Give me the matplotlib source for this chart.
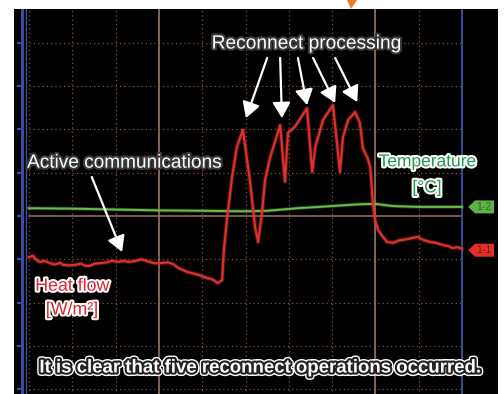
import numpy as np
import matplotlib
matplotlib.use("Agg")
import matplotlib.pyplot as plt
import matplotlib.patheffects as pe
from matplotlib.patches import Polygon

plt.rcParams['font.family'] = ['Liberation Sans', 'DejaVu Sans']
plt.rcParams['lines.scale_dashes'] = False

# scope traces, in screen divisions (x: 0..10, y: centre line = 0)
heat_t = [0, 0.09, 0.18, 0.25, 0.36, 0.49, 0.60, 0.72, 0.79, 0.92, 1.06, 1.20,
          1.30, 1.41, 1.52, 1.64, 1.80, 1.92, 2.03, 2.20, 2.30, 2.45, 2.60,
          2.79, 2.90, 3.03, 3.20, 3.33, 3.45, 3.65, 3.85, 4.11, 4.25, 4.36,
          4.46, 4.50, 4.57, 4.69, 4.80, 4.94, 5.10, 5.22, 5.29, 5.38, 5.45,
          5.57, 5.80, 5.91, 5.98, 6.14, 6.42, 6.54, 6.61, 6.79, 7.02, 7.18,
          7.25, 7.37, 7.53, 7.64, 7.71, 7.76, 7.81, 7.88, 7.94, 7.99, 8.06,
          8.15, 8.27, 8.41, 8.55, 8.64, 8.80, 8.98, 9.10, 9.26, 9.40, 9.56,
          9.70, 9.77, 9.90, 10.0]
heat_v = [-0.95, -0.92, -1.02, -1.06, -1.04, -1.09, -1.12, -1.08, -1.13, -1.14,
          -1.13, -1.10, -1.15, -1.15, -1.10, -1.09, -1.07, -1.03, -1.06, -1.04,
          -1.06, -1.04, -1.00, -1.06, -1.09, -1.09, -1.07, -1.11, -1.20, -1.29,
          -1.34, -1.43, -1.47, -1.55, -1.48, -0.79, -0.09, 0.90, 1.59, 1.99,
          0.83, -0.25, -0.60, 0.07, 0.83, 1.36, 2.10, 0.79, 1.92, 2.06, 2.49,
          1.02, 1.59, 2.22, 2.56, 1.02, 1.82, 2.22, 2.40, 2.15, 1.57, 1.45,
          1.36, 1.13, 0.30, -0.09, -0.32, -0.45, -0.60, -0.62, -0.56, -0.55,
          -0.52, -0.48, -0.55, -0.60, -0.62, -0.67, -0.70, -0.74, -0.72, -0.76]

temp_t = [0, 1.0, 2.0, 3.0, 4.0, 5.0, 5.5, 6.2, 7.0, 7.6, 8.0, 8.4, 9.0, 10.0]
temp_v = [0.18, 0.17, 0.15, 0.13, 0.12, 0.11, 0.12, 0.18, 0.23, 0.27, 0.28,
          0.23, 0.21, 0.21]

# channel markers on the right edge
flag_labels = ['1-2', '1-1']
flag_levels = [0.21, -0.79]

# peaks marked as reconnects (arrow tips) and the arrow tails
peak_t = [5.01, 5.84, 6.42, 7.07, 7.58]
peak_v = [2.26, 2.26, 2.56, 2.61, 2.63]
tail_t = [5.50, 5.80, 6.21, 6.56, 7.07]
tail_v = [3.65, 3.65, 3.65, 3.65, 3.65]

assert len(heat_t) == len(heat_v)

fig = plt.figure(figsize=(5.04, 3.94), dpi=100)
ax = fig.add_axes([14 / 504, 0, 484 / 504, 385 / 394])
ax.set_facecolor('black')
ax.set_xlim(-0.346, 10.83)
ax.set_ylim(-4.11, 4.78)
ax.set_xticks([])
ax.set_yticks([])
for sp in ax.spines.values():
    sp.set_visible(False)

grid_c = '#8a5535'
dots = (0, (0.9, 2.2))
for gy in range(-4, 5):
    if gy != 0:
        ax.plot([0, 10], [gy, gy], color=grid_c, lw=0.9, ls=dots, zorder=1)
for gx in range(0, 10):
    if gx != 3:
        ax.plot([gx, gx], [-4.2, 4.9], color=grid_c, lw=0.9, ls=dots, zorder=1)

cursor_c = '#9c7262'
ax.plot([0, 10], [0, 0], color=cursor_c, lw=1.1, zorder=2)
for cx in (3, 8):
    ax.plot([cx, cx], [-4.2, 4.9], color=cursor_c, lw=1.2, zorder=2)

blue = '#3b4c9e'
ax.plot([10, 10], [-4.2, 4.9], color=blue, lw=1.4, zorder=2)
ax.plot([-0.16, -0.16], [-4.2, 4.9], color=blue, lw=2.2, zorder=2)
ax.plot([-0.07, -0.07], [-4.2, 4.9], color=blue, lw=1.0, zorder=2)
for gy in range(-4, 5):
    ax.plot([-0.25, -0.16], [gy, gy], color=blue, lw=1.6, zorder=2)

# traces
ax.plot(temp_t, temp_v, color='#62b048', lw=2.6, alpha=0.35, zorder=3)
ax.plot(temp_t, temp_v, color='#6cbc4c', lw=1.4, zorder=3)
ax.plot(heat_t, heat_v, color='#dc322c', lw=3.2, alpha=0.3, zorder=4)
ax.plot(heat_t, heat_v, color='#dc322c', lw=1.6, zorder=4)

flag_fill = ['#62b048', '#e0302c']
flag_text = ['#2c6a20', '#8a1010']
for lab, lev, fc, tc in zip(flag_labels, flag_levels, flag_fill, flag_text):
    h = 0.15
    ax.add_patch(Polygon([(10.14, lev), (10.30, lev + h), (10.74, lev + h),
                          (10.74, lev - h), (10.30, lev - h)],
                         closed=True, fc=fc, ec='none', zorder=5))
    ax.text(10.51, lev, lab, color=tc, fontsize=7.5, ha='center',
            va='center', zorder=6)

# annotations
dark_edge = [pe.withStroke(linewidth=3, foreground='#3a3a3a')]
arrow_kw = dict(arrowstyle='-|>,head_length=0.47,head_width=0.27',
                color='white', lw=1.6, mutation_scale=20,
                shrinkA=0, shrinkB=0)

ax.text(6.40, 3.97, 'Reconnect processing', color='white', fontsize=13.8,
        ha='center', va='center', path_effects=dark_edge, zorder=7)
for tt, tv, pt, pv in zip(tail_t, tail_v, peak_t, peak_v):
    ax.annotate('', xy=(pt, pv), xytext=(tt, tv), arrowprops=arrow_kw,
                zorder=7)

ax.text(2.19, 1.22, 'Active communications', color='white', fontsize=13.7,
        ha='center', va='center', path_effects=dark_edge, zorder=7)
ax.annotate('', xy=(2.15, -0.83), xytext=(1.45, 0.90), arrowprops=arrow_kw,
            zorder=7)

white_edge = [pe.withStroke(linewidth=3, foreground='white')]
ax.text(9.20, 1.25, 'Temperature', color='#1f9a4c', fontsize=12.5,
        ha='center', va='center', path_effects=white_edge, zorder=7)
ax.text(9.19, 0.65, '[°C]', color='#1f9a4c', fontsize=12.5,
        ha='center', va='center', path_effects=white_edge, zorder=7)
ax.text(1.0, -1.62, 'Heat flow', color='#dd2230', fontsize=12.8,
        ha='center', va='center', path_effects=white_edge, zorder=7)
ax.text(0.99, -2.17, '[W/m²]', color='#dd2230', fontsize=12.8,
        ha='center', va='center', path_effects=white_edge, zorder=7)

ax.text(5.33, -3.51, 'It is clear that five reconnect operations occurred.',
        color='white', fontsize=13.4, fontweight='bold', ha='center',
        va='center', zorder=7,
        path_effects=[pe.Stroke(linewidth=5, foreground='white'),
                      pe.Stroke(linewidth=3, foreground='#222222'),
                      pe.Normal()])

# trigger marker in the top margin
fig.patches.append(Polygon([(347 / 504, 1), (357 / 504, 1), (351 / 504, 1 - 9 / 394)],
                           closed=True, transform=fig.transFigure,
                           fc='#f07a20', ec='none'))

fig.savefig('out.png', dpi=100, facecolor='white')
